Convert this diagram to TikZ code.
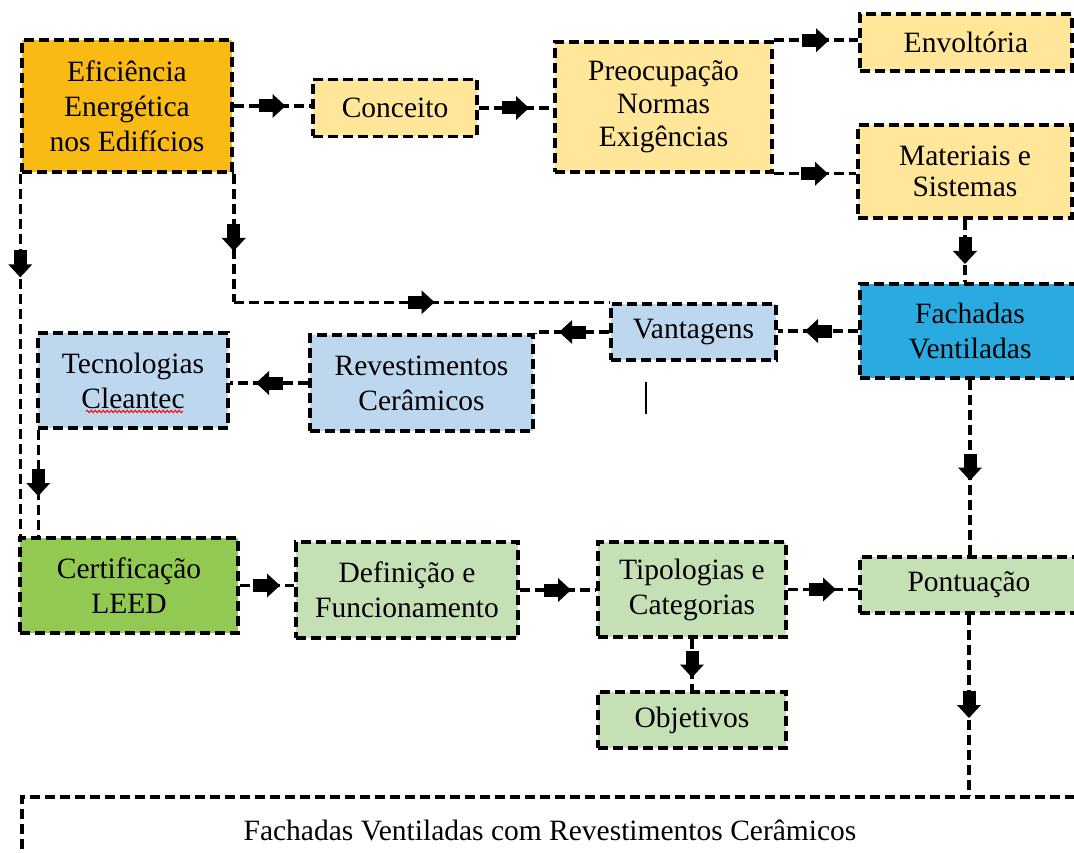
\documentclass[tikz,border=0pt]{standalone}
\usepackage{fontspec}
\setmainfont{Liberation Serif}
\usetikzlibrary{decorations.markings,decorations.pathmorphing}
\definecolor{cOr}{RGB}{250,186,20}
\definecolor{cYe}{RGB}{255,230,153}
\definecolor{cBl}{RGB}{41,171,226}
\definecolor{cLb}{RGB}{189,215,238}
\definecolor{cGr}{RGB}{146,201,82}
\definecolor{cLg}{RGB}{197,224,180}
\tikzset{
  dsh/.style={line width=3.5pt, dash pattern=on 10pt off 5pt},
  box/.style={draw, dsh, inner sep=0pt, align=center,
    font=\fontsize{29.5pt}{35pt}\selectfont},
  conn/.style={dsh},
  arrmid/.style={postaction={decorate, decoration={markings,
    mark=at position #1 with {\fill[solid] (-14pt,-6.5pt) rectangle (0.5pt,6.5pt);
      \fill[solid] (0pt,-12pt) -- (13pt,0pt) -- (0pt,12pt) -- cycle;}}}},
  arrmid/.default=0.5
}
\begin{document}
\begin{tikzpicture}[x=1pt,y=-1pt]
\useasboundingbox (0,0) rectangle (1074,853);
\clip (0,0) rectangle (1074,853);
% nodes
\node[box, fill=cOr, minimum width=210pt, minimum height=132pt] (ef) at (127,106) {Eficiência\\Energética\\nos Edifícios};
\node[box, fill=cYe, minimum width=164pt, minimum height=57pt] (con) at (395,108) {Conceito};
\node[box, fill=cYe, minimum width=217pt, minimum height=130pt, font=\fontsize{29.5pt}{33pt}\selectfont] (pre) at (663.5,107) {Preocupação\\Normas\\Exigências};
\node[box, fill=cYe, minimum width=212pt, minimum height=57pt] (env) at (966,42.5) {Envoltória};
\node[box, fill=cYe, minimum width=214pt, minimum height=93pt, font=\fontsize{29.5pt}{31pt}\selectfont] (mat) at (965,171.5) {Materiais e\\Sistemas};
\node[box, fill=cBl, minimum width=220pt, minimum height=94pt] (fach) at (970,331) {Fachadas\\Ventiladas};
\node[box, fill=cLb, minimum width=165pt, minimum height=56pt] (van) at (693.5,332) {Vantagens};
\node[box, fill=cLb, minimum width=223pt, minimum height=96pt] (rev) at (421.5,383) {Revestimentos\\Cerâmicos};
\node[box, fill=cLb, minimum width=190pt, minimum height=95pt] (tec) at (133,380.5) {Tecnologias\\Cleantec};
\node[box, fill=cGr, minimum width=218pt, minimum height=95pt] (cert) at (129,585.5) {Certificação\\LEED};
\node[box, fill=cLg, minimum width=222pt, minimum height=96pt] (def) at (407,590) {Definição e\\Funcionamento};
\node[box, fill=cLg, minimum width=188pt, minimum height=95pt] (tip) at (692,589.5) {Tipologias e\\Categorias};
\node[box, fill=cLg, minimum width=218pt, minimum height=56pt] (pon) at (969,585) {Pontuação};
\node[box, fill=cLg, minimum width=188pt, minimum height=56pt] (obj) at (692,720) {Objetivos};
\node[box, minimum width=1056pt, minimum height=66pt] (fvrc) at (550,830) {Fachadas Ventiladas com Revestimentos Cerâmicos};
% connectors
\draw[conn, arrmid] (ef.east) -- (ef.east -| con.west);
\draw[conn, arrmid] (con.east) -- (con.east -| pre.west);
\draw[conn, arrmid] (pre.north east) -- (pre.north east -| env.west);
\draw[conn, arrmid] (pre.south east) -- (pre.south east -| mat.west);
\draw[conn, arrmid] (mat.south) -- (mat.south |- fach.north);
\draw[conn, arrmid] (fach.west) -- (fach.west -| van.east);
\draw[conn, arrmid=0.49] (van.west) -- (van.west -| rev.north east) -- (rev.north east);
\coordinate (c1) at (ef.south east |- van.north west);
\draw[conn, arrmid] (ef.south east) -- (c1);
\draw[conn, arrmid] (c1) -- (van.north west);
\draw[conn, arrmid] (rev.west) -- (rev.west -| tec.east);
\coordinate (c2) at ([xshift=2pt]tec.south west);
\draw[conn, arrmid] (c2) -- (c2 |- cert.north);
\draw[conn, arrmid=0.25] (ef.south west) -- (ef.south west |- cert.north);
\draw[conn, arrmid] (cert.east) -- (cert.east -| def.west);
\draw[conn, arrmid] (def.east) -- (def.east -| tip.west);
\draw[conn, arrmid] (tip.east) -- (tip.east -| pon.west);
\draw[conn, arrmid] (tip.south) -- (obj.north);
\draw[conn, arrmid] (fach.south) -- (fach.south |- pon.north);
\draw[conn, arrmid] (pon.south) -- (pon.south |- fvrc.north);
% stray text cursor and spell-check underline
\coordinate (cur) at (646,382);
\draw[line width=1.5pt] (cur) -- ++(0,32);
\coordinate (ul) at ([xshift=-47pt,yshift=-31pt]tec.center);
\draw[red, line width=1pt, decorate, decoration={snake, amplitude=1.2pt, segment length=4pt}] (ul) -- ++(97,0);
\end{tikzpicture}
\end{document}
